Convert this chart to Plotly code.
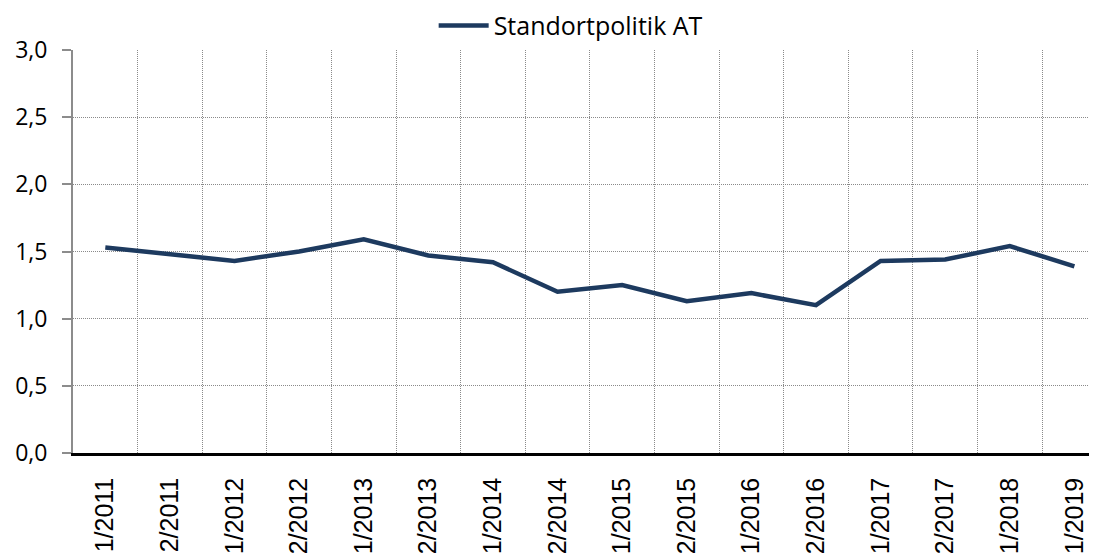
import plotly.graph_objects as go

categories = ["1/2011", "2/2011", "1/2012", "2/2012", "1/2013", "2/2013", "1/2014", "2/2014",
              "1/2015", "2/2015", "1/2016", "2/2016", "1/2017", "2/2017", "1/2018", "1/2019"]
values = [1.53, 1.48, 1.43, 1.50, 1.59, 1.47, 1.42, 1.20,
          1.25, 1.13, 1.19, 1.10, 1.43, 1.44, 1.54, 1.39]
series_name = "Standortpolitik AT"
y_ticks = [0, 0.5, 1.0, 1.5, 2.0, 2.5, 3.0]
y_tick_text = ["0,0", "0,5", "1,0", "1,5", "2,0", "2,5", "3,0"]

fig = go.Figure()
fig.add_trace(go.Scatter(
    x=categories, y=values, mode="lines", name=series_name,
    line=dict(color="#1d3a5f", width=4.5),
))

fig.update_layout(
    width=1089, height=545,
    margin=dict(l=65, r=0, t=42, b=100, autoexpand=False),
    paper_bgcolor="white", plot_bgcolor="white",
    showlegend=True,
    legend=dict(orientation="h", x=0.486, xanchor="center", y=1.06, yanchor="middle",
                itemwidth=50,
                font=dict(family="Open Sans", size=25, color="#000000"),
                bgcolor="rgba(0,0,0,0)"),
)

fig.update_xaxes(
    type="category", categoryorder="array", categoryarray=categories,
    range=[-0.5, 15.35],
    tickson="boundaries",
    showgrid=True, gridcolor="#8a8a8a", gridwidth=1, griddash="1px,1px",
    showline=True, linecolor="#000000", linewidth=2.5,
    ticks="outside", ticklen=1, tickcolor="rgba(0,0,0,0)",
    ticklabelstandoff=12,
    tickangle=-90,
    tickfont=dict(family="Liberation Sans, Arial", size=25, color="#000000"),
    automargin=False,
)

fig.update_yaxes(
    range=[0, 3], tickvals=y_ticks, ticktext=y_tick_text,
    showgrid=True, gridcolor="#8a8a8a", gridwidth=1, griddash="1px,1px",
    zeroline=False,
    showline=True, linecolor="#8c8c8c", linewidth=2,
    ticks="outside", ticklen=9, tickwidth=2, tickcolor="#8c8c8c",
    ticklabelstandoff=10,
    tickfont=dict(family="Open Sans", size=23, color="#000000"),
    automargin=False,
)

fig.write_html("out.html")
